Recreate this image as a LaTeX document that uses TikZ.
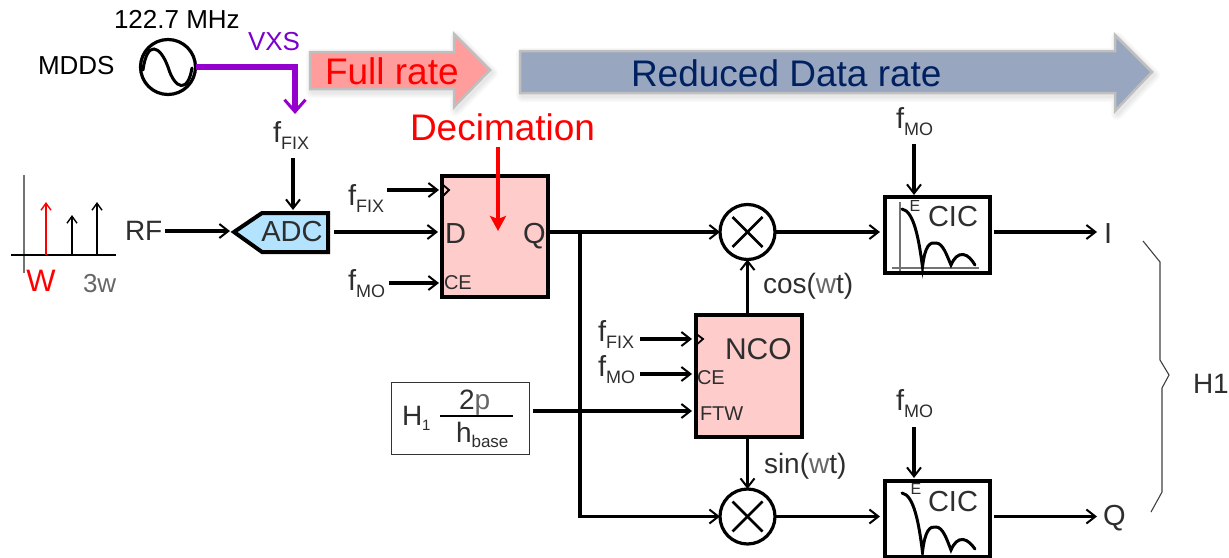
\documentclass[tikz,border=0pt]{standalone}
\usepackage{fontspec}
\setmainfont{Liberation Sans}
\usetikzlibrary{arrows.meta,calc}
\definecolor{txtg}{HTML}{2E2E2E}
\definecolor{lightg}{HTML}{666666}
\definecolor{ffpink}{HTML}{FFCCCC}
\definecolor{adcblue}{HTML}{B3E3FF}
\definecolor{vxs}{HTML}{9400CC}
\definecolor{vxst}{HTML}{7A00CC}
\definecolor{fullr}{HTML}{FF9C9C}
\definecolor{redr}{HTML}{98A6BF}
\definecolor{navy}{HTML}{002060}
\newcommand{\fsz}[1]{\fontsize{#1}{#1}\selectfont}
\newcommand{\fsub}[1]{{\fsz{29}f}\raisebox{-7pt}{\fsz{18}#1}}
\tikzset{
  x=1pt,y=-1pt,
  lbl/.style={anchor=base west,inner sep=0pt,outer sep=0pt,text=txtg,font=\fsz{#1}},
  ctr/.style={anchor=center,inner sep=0pt,outer sep=0pt,text=txtg,font=\fsz{#1}},
  conn/.style={line width=3.1pt,-{Straight Barb[length=9pt,width=14pt,line width=2pt]}},
  wire/.style={line width=3.1pt},
  blockbox/.style={draw=black,line width=4pt,fill=ffpink,rectangle,inner sep=0pt,outer sep=0pt,anchor=north west},
  cicbox/.style={draw=black,line width=4pt,fill=white,rectangle,inner sep=0pt,outer sep=0pt,minimum width=105pt,minimum height=76pt,anchor=north west},
  mixer/.style={draw=black,line width=3.2pt,fill=white,circle,inner sep=0pt,outer sep=0pt,minimum size=55pt},
  bigarrow/.style={draw=black!25,line width=2.5pt,fill=#1,line join=miter},
  speck/.style={line width=2pt,-{Straight Barb[length=7pt,width=10pt,line width=1.4pt]}},
  filt/.style={line width=3pt,line cap=round},
  axisl/.style={line width=1.4pt,draw=black!55},
}
\begin{document}
\begin{tikzpicture}
\useasboundingbox (0,0) rectangle (1229,557);
% soft shadows
\foreach \w in {12,9,6,3}{
  \draw[line width=\w pt,draw=black,opacity=.025,line join=round,shift={(2,3)}] (310,52)--(454,52)--(454,34)--(490,70)--(454,107)--(454,89)--(310,89)--cycle;
  \draw[line width=\w pt,draw=black,opacity=.025,line join=round,shift={(2,3)}] (520,51)--(1115,51)--(1115,35)--(1152,72)--(1115,111)--(1115,93)--(520,93)--cycle;
}
% big arrows
\draw[bigarrow=fullr] (310,52)--(454,52)--(454,34)--(490,70)--(454,107)--(454,89)--(310,89)--cycle;
\draw[bigarrow=redr] (520,51)--(1115,51)--(1115,35)--(1152,72)--(1115,111)--(1115,93)--(520,93)--cycle;
\node[lbl=37,text=red] (fullt) at (325,84) {Full rate};
\node[lbl=37,text=navy] (redt) at (631,86) {Reduced Data rate};
\node[lbl=37,text=red] (deci) at (410,140) {Decimation};
% oscillator
\node[draw=black,line width=3.2pt,circle,fill=white,minimum size=55pt,inner sep=0pt,outer sep=0pt] (osc) at (168,67) {};
\draw[line width=3pt,line cap=round] (143,70) .. controls (147,40) and (160,45) .. (168,67) .. controls (175,90) and (188,93) .. (192,68);
\node[lbl=26,text=black] (t1227) at (114,28) {122.7 MHz};
\node[lbl=26,text=black] (mdds) at (38,74) {MDDS};
\node[lbl=26,text=vxst] (vxst) at (248,50) {VXS};
\coordinate (vxsend) at (295,114);
\draw[line width=5.5pt,draw=vxs,-{Straight Barb[length=12pt,width=21pt,line width=3pt]}] (osc.east) -- (295,67) -- (vxsend);
% fFIX top
\node[lbl=28] (ffix1) at (273,142) {\fsub{FIX}};
% ADC
\coordinate (adcA) at (234,232);
\draw[line width=4pt,fill=adcblue,line join=miter] (adcA)--(262,213)--(328,213)--(328,252)--(262,252)--cycle;
\node[ctr=29] (adc) at (292,232) {ADC};
\coordinate (adcT) at (293,210);
\coordinate (adcR) at (334,232);
% spectrum
\draw[axisl] (24,175)--(24,273);
\draw[line width=1.2pt] (11,255)--(116,255);
\coordinate (sb1) at (46,255);\coordinate (st1) at (46,202);
\coordinate (sb2) at (72,255);\coordinate (st2) at (72,215);
\coordinate (sb3) at (97,255);\coordinate (st3) at (97,202);
\draw[speck,draw=red] (sb1)--(st1);
\draw[speck] (sb2)--(st2);
\draw[speck] (sb3)--(st3);
\node[ctr=31,text=red] (wred) at (41,281) {W};
\node[lbl=26,text=lightg] (w3) at (83,292) {3w};
\node[lbl=28] (rf) at (125,240) {RF};
% FF block
\node[blockbox,minimum width=106pt,minimum height=121pt] (ff) at (442,176) {};
\draw[line width=1.8pt,line join=miter] (442,184)--(449,190)--(442,197);
\node[lbl=29] (ffd) at (445,243) {D};
\node[lbl=20] (ffce) at (444,289) {CE};
\node[lbl=29] (ffq) at (523,243) {Q};
\node[lbl=28] (ffix2) at (348,205) {\fsub{FIX}};
\node[lbl=28] (fmo1) at (348,290) {\fsub{MO}};
% NCO block
\node[blockbox,minimum width=106pt,minimum height=122pt] (nco) at (696,315) {};
\draw[line width=1.8pt,line join=miter] (695,333)--(703,339)--(695,346);
\node[lbl=30] (ncot) at (725,359) {NCO};
\node[lbl=20] (ncoce) at (697,384) {CE};
\node[lbl=20] (ncoftw) at (700,420) {FTW};
\node[lbl=28] (ffix3) at (598,341) {\fsub{FIX}};
\node[lbl=28] (fmo2) at (598,376) {\fsub{MO}};
% H box
\node[draw=black!80,line width=1pt,rectangle,fill=white,minimum width=138pt,minimum height=72pt,inner sep=0pt,outer sep=0pt,anchor=north west] (hbox) at (391,382) {};
\node[lbl=28] (h1) at (402,425) {H\raisebox{-5pt}{\fsz{15}1}};
\draw[line width=2.2pt] (440,416)--(513,416);
\node[lbl=28] (tp) at (459,409) {2{\color{lightg}p}};
\node[lbl=28] (hb) at (456,442) {h\raisebox{-5pt}{\fsz{17}base}};
% mixers
\node[mixer] (mix1) at (747.5,232) {};
\node[mixer] (mix2) at (747.5,516.5) {};
\foreach \m in {mix1,mix2}{
  \draw[line width=2.8pt] ($(\m)+(-15,-15)$)--($(\m)+(15,15)$);
  \draw[line width=2.8pt] ($(\m)+(-15,15)$)--($(\m)+(15,-15)$);
}
\node[lbl=28] (cost) at (763,293) {cos({\color{lightg}w}t)};
\node[lbl=28] (sint) at (764,473) {sin({\color{lightg}w}t)};
% CIC
\node[cicbox] (cic1) at (885,197) {};
\node[cicbox] (cic2) at (885,480.5) {};
\draw[axisl] (900,202)--(900,271);
\draw[axisl] (892,268)--(979,268);
\draw[filt] (902,209) .. controls (914,211) and (919,240) .. (922.5,267) .. controls (925,245) and (930,242) .. (936,243) .. controls (943,243) and (947,256) .. (951,265) .. controls (954,258) and (958,254) .. (963,254.5) .. controls (968,255) and (972,260) .. (975,265);
\draw[filt] (902,493) .. controls (914,495) and (919,524) .. (922.5,552) .. controls (925,530) and (930,526) .. (936,527) .. controls (943,527) and (947,540) .. (951,550) .. controls (954,543) and (958,539) .. (963,539.5) .. controls (968,540) and (972,545) .. (975,549);
\node[ctr=16] (e1) at (915,206) {E};
\node[ctr=16] (e2) at (916,489) {E};
\node[ctr=29] (cict1) at (953,217) {CIC};
\node[ctr=29] (cict2) at (953,502) {CIC};
\node[lbl=28] (fmo3) at (896,128) {\fsub{MO}};
\node[lbl=28] (fmo4) at (896,410) {\fsub{MO}};
\node[lbl=29] (iout) at (1104,243) {I};
\node[lbl=29] (qout) at (1103,525) {Q};
% brace
\draw[line width=1.1pt,draw=black!75,line join=miter] (1143,241)--(1160,262)--(1160,360)--(1169,375)--(1162,388)--(1162,492)--(1151,512);
\node[lbl=28] (h1t) at (1193,393) {H1};
% connector anchors
\coordinate (fft) at (293,158);
\coordinate (rfa) at (165,231);\coordinate (rfb) at (230,231);
\coordinate (ffD) at (438,232);
\coordinate (ffCk) at (439,190);\coordinate (ffCks) at (387,190);
\coordinate (ffCe) at (439,283);\coordinate (ffCes) at (389,283);
\coordinate (ffQ) at (550,232);
\coordinate (branch) at (580,232);
\coordinate (branchb) at (580,516.5);
\coordinate (ncoCk) at (692,339);\coordinate (ncoCks) at (640,339);
\coordinate (ncoCe) at (692,374);\coordinate (ncoCes) at (640,374);
\coordinate (ncoF) at (692,411);\coordinate (hout) at (533,411);
\coordinate (iend) at (1097,232);\coordinate (qend) at (1097,516.5);
\coordinate (c1o) at (994,232);\coordinate (c2o) at (994,516.5);
\coordinate (c1i) at (880,232);\coordinate (c2i) at (880,516.5);
\coordinate (e1s) at (914,144);\coordinate (e1e) at (914,195);
\coordinate (e2s) at (914,427);\coordinate (e2e) at (914,478);
\coordinate (nt) at (747.5,313);\coordinate (nb) at (747.5,438);
\coordinate (dcs) at (498,147);\coordinate (dce) at (498,231);
% connectors
\draw[conn] (fft)--(adcT);
\draw[conn] (rfa)--(rfb);
\draw[conn] (adcR)--(ffD);
\draw[conn] (ffCks)--(ffCk);
\draw[conn] (ffCes)--(ffCe);
\draw[wire] (ffQ)--(branch);
\draw[conn] (branch)--(mix1.west);
\draw[conn] (branch)--(branchb)--(mix2.west);
\draw[conn] (mix1.east)--(c1i);
\draw[conn] (mix2.east)--(c2i);
\draw[conn] (c1o)--(iend);
\draw[conn] (c2o)--(qend);
\draw[conn] (e1s)--(e1e);
\draw[conn] (e2s)--(e2e);
\draw[conn] (ncoCks)--(ncoCk);
\draw[conn] (ncoCes)--(ncoCe);
\draw[conn] (hout)--(ncoF);
\draw[conn] (nt)--(mix1.south);
\draw[conn] (nb)--(mix2.north);
\draw[line width=3.5pt,draw=red,-{Stealth[length=15pt,width=16pt,inset=3pt]}] (dcs)--(dce);
\end{tikzpicture}
\end{document}
